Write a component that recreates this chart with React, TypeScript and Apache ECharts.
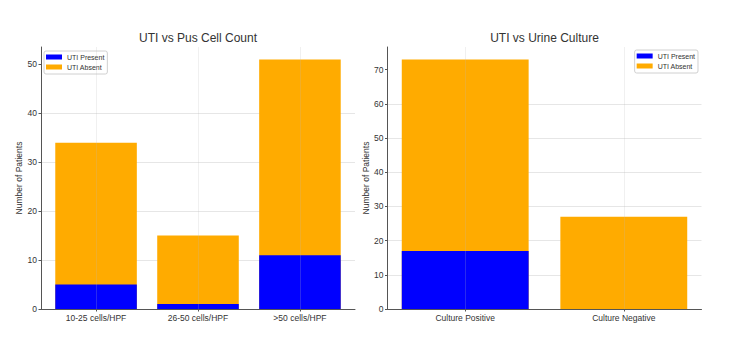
import React, { useEffect, useRef } from "react";
import * as echarts from "echarts";

// Pus cell count groups
const pusCategories = ["10-25 cells/HPF", "26-50 cells/HPF", ">50 cells/HPF"];
const pusPresent = [5, 1, 11];
const pusAbsent = [29, 14, 40];

// Urine culture groups
const cultureCategories = ["Culture Positive", "Culture Negative"];
const culturePresent = [17, 0];
const cultureAbsent = [56, 27];

const pusTicks = [0, 10, 20, 30, 40, 50];
const cultureTicks = [0, 10, 20, 30, 40, 50, 60, 70];

const FONT = "'Liberation Sans', Arial, sans-serif";
const BLUE = "#0000ff";
const ORANGE = "#ffab00";
const TEXT = "#333333";
const AXIS = "#555555";
const GRID_LINE = "#e6e6e6";

const W = 750;
const H = 337;

// plot areas
const leftGrid = { left: 41, top: 47, width: 314, height: 262 };
const rightGrid = { left: 387.5, top: 47, width: 314, height: 262 };

function totals(a: number[], b: number[]) {
  return a.map((v, i) => v + b[i]);
}

function xRange(n: number) {
  // bars of width 0.8 centred on integer positions with 5% padding
  const lo = -0.4;
  const hi = n - 1 + 0.4;
  const pad = (hi - lo) * 0.05;
  return [lo - pad, hi + pad];
}

export default function App() {
  const ref = useRef<HTMLDivElement>(null);

  useEffect(() => {
    if (!ref.current) return;
    const chart = echarts.init(ref.current, null, { renderer: "svg" });

    const pusTotals = totals(pusPresent, pusAbsent);
    const cultureTotals = totals(culturePresent, cultureAbsent);
    const pusMax = Math.max(...pusTotals) * 1.05;
    const cultureMax = Math.max(...cultureTotals) * 1.05;
    const [lx0, lx1] = xRange(pusCategories.length);
    const [rx0, rx1] = xRange(cultureCategories.length);
    const leftBarW = (0.8 * leftGrid.width) / (lx1 - lx0);
    const rightBarW = (0.8 * rightGrid.width) / (rx1 - rx0);

    const xAxisBase = (cats: string[], min: number, max: number, gridIndex: number) => ({
      type: "value",
      gridIndex,
      min,
      max,
      axisLine: { show: true, onZero: false, lineStyle: { color: AXIS, width: 1 } },
      axisTick: {
        show: true,
        length: 2.5,
        lineStyle: { color: AXIS },
        customValues: cats.map((_, i) => i),
      },
      axisLabel: {
        show: true,
        color: TEXT,
        fontSize: 8.5,
        fontFamily: FONT,
        margin: 4,
        customValues: cats.map((_, i) => i),
        formatter: (v: number) => cats[Math.round(v)] ?? "",
      },
      splitLine: { show: false },
    });

    const yAxisBase = (ticks: number[], max: number, gridIndex: number, gap: number) => ({
      type: "value",
      gridIndex,
      min: 0,
      max,
      interval: 10,
      name: "Number of Patients",
      nameLocation: "middle",
      nameGap: gap,
      nameTextStyle: { color: TEXT, fontSize: 8.5, fontFamily: FONT },
      axisLine: { show: true, onZero: false, lineStyle: { color: AXIS, width: 1 } },
      axisTick: {
        show: true,
        length: 2.5,
        lineStyle: { color: AXIS },
        customValues: ticks,
      },
      axisLabel: {
        color: TEXT,
        fontSize: 8.5,
        fontFamily: FONT,
        margin: 4,
        customValues: ticks,
      },
      splitLine: {
        show: true,
        showMaxLine: false,
        lineStyle: { color: GRID_LINE, width: 1 },
      },
    });

    // vertical grid lines at each category position, spanning the full plot height
    const vGrid = (cats: string[], yMax: number) => ({
      silent: true,
      symbol: "none",
      label: { show: false },
      lineStyle: { color: "rgba(185,185,185,0.22)", width: 1, type: "solid" },
      data: cats.map((_, i) => [{ coord: [i, 0] }, { coord: [i, yMax] }]),
    });

    const legendBase = {
      orient: "vertical",
      itemWidth: 16,
      itemHeight: 5,
      itemGap: 2,
      padding: [2, 3, 3, 2],
      borderColor: "#d0d0d0",
      borderWidth: 1,
      borderRadius: 2,
      backgroundColor: "rgba(255,255,255,0.85)",
      textStyle: { color: TEXT, fontSize: 7, fontFamily: FONT, lineHeight: 8 },
      icon: "rect",
      selectedMode: false,
      data: ["UTI Present", "UTI Absent"],
    };

    // "UTI Absent" sits on top of "UTI Present": the orange bar spans the group
    // total and the blue bar is drawn over its lower part.
    chart.setOption({
      animation: false,
      backgroundColor: "#ffffff",
      textStyle: { fontFamily: FONT },
      grid: [
        { ...leftGrid, containLabel: false },
        { ...rightGrid, containLabel: false },
      ],
      legend: [
        { ...legendBase, left: 44, top: 51 },
        { ...legendBase, right: W - 698, top: 50 },
      ],
      xAxis: [
        xAxisBase(pusCategories, lx0, lx1, 0),
        xAxisBase(cultureCategories, rx0, rx1, 1),
      ],
      yAxis: [
        yAxisBase(pusTicks, pusMax, 0, 10),
        yAxisBase(cultureTicks, cultureMax, 1, 12),
      ],
      graphic: [
        {
          type: "text",
          x: leftGrid.left + leftGrid.width / 2,
          y: 38,
          style: {
            text: "UTI vs Pus Cell Count",
            fill: TEXT,
            font: `12px ${FONT}`,
            textAlign: "center",
            textVerticalAlign: "middle",
          },
        },
        {
          type: "text",
          x: rightGrid.left + rightGrid.width / 2,
          y: 38,
          style: {
            text: "UTI vs Urine Culture",
            fill: TEXT,
            font: `12px ${FONT}`,
            textAlign: "center",
            textVerticalAlign: "middle",
          },
        },
      ],
      series: [
        {
          name: "UTI Absent",
          type: "bar",
          xAxisIndex: 0,
          yAxisIndex: 0,
          barWidth: leftBarW,
          barGap: "-100%",
          itemStyle: { color: ORANGE },
          data: pusTotals.map((v, i) => [i, v]),
        },
        {
          name: "UTI Present",
          type: "bar",
          xAxisIndex: 0,
          yAxisIndex: 0,
          barWidth: leftBarW,
          barGap: "-100%",
          itemStyle: { color: BLUE },
          data: pusPresent.map((v, i) => [i, v]),
          markLine: vGrid(pusCategories, pusMax),
        },
        {
          name: "UTI Absent",
          type: "bar",
          xAxisIndex: 1,
          yAxisIndex: 1,
          barWidth: rightBarW,
          barGap: "-100%",
          itemStyle: { color: ORANGE },
          data: cultureTotals.map((v, i) => [i, v]),
        },
        {
          name: "UTI Present",
          type: "bar",
          xAxisIndex: 1,
          yAxisIndex: 1,
          barWidth: rightBarW,
          barGap: "-100%",
          itemStyle: { color: BLUE },
          data: culturePresent.map((v, i) => [i, v]),
          markLine: vGrid(cultureCategories, cultureMax),
        },
      ],
    });

    return () => chart.dispose();
  }, []);

  return (
    <div
      ref={ref}
      style={{ position: "fixed", left: 0, top: 0, width: W, height: H, background: "#fff" }}
    />
  );
}
